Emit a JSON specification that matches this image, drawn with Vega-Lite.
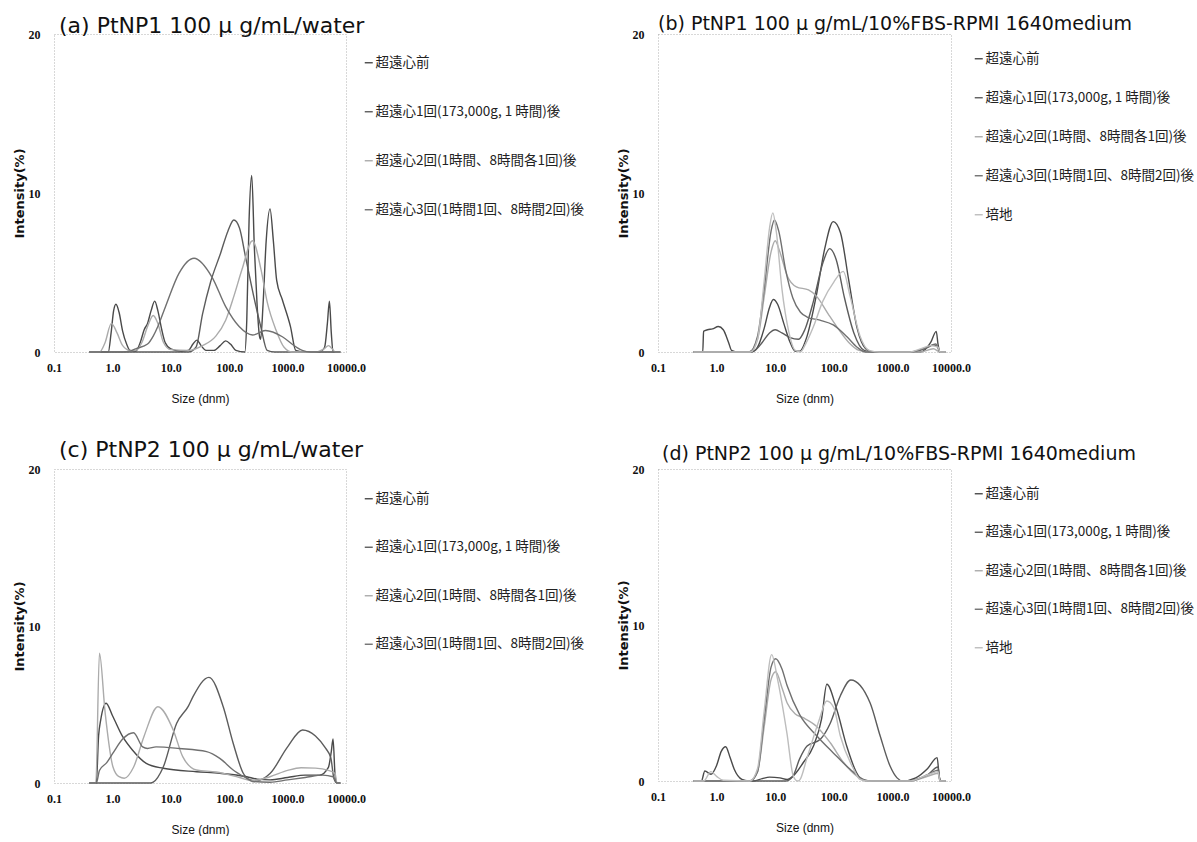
{
"$schema":"https://vega.github.io/schema/vega-lite/v6.json",
"background":"white",
"padding":{"left":12,"top":14,"right":0,"bottom":0},
"datasets":{
"names":[{"k":0,"s":"超遠心前"},{"k":1,"s":"超遠心1回(173,000g, 1 時間)後"},{"k":2,"s":"超遠心2回(1時間、8時間各1回)後"},{"k":3,"s":"超遠心3回(1時間1回、8時間2回)後"},{"k":4,"s":"培地"}],
"pts":[
{"p":"a","k":0,"x":0.4,"y":0},{"p":"a","k":0,"x":0.85,"y":0},{"p":"a","k":0,"x":0.95,"y":1.2},{"p":"a","k":0,"x":1.05,"y":2.6},{"p":"a","k":0,"x":1.15,"y":3.0},{"p":"a","k":0,"x":1.3,"y":2.5},{"p":"a","k":0,"x":1.5,"y":1.3},{"p":"a","k":0,"x":1.75,"y":0.5},{"p":"a","k":0,"x":2.0,"y":0.1},{"p":"a","k":0,"x":2.5,"y":0.05},{"p":"a","k":0,"x":3.0,"y":0.6},{"p":"a","k":0,"x":3.5,"y":1.4},{"p":"a","k":0,"x":4.0,"y":1.8},{"p":"a","k":0,"x":4.6,"y":2.6},{"p":"a","k":0,"x":5.3,"y":3.2},{"p":"a","k":0,"x":6.0,"y":2.6},{"p":"a","k":0,"x":7.0,"y":1.4},{"p":"a","k":0,"x":8.0,"y":0.6},{"p":"a","k":0,"x":10,"y":0.2},{"p":"a","k":0,"x":15,"y":0.05},{"p":"a","k":0,"x":20,"y":0.1},{"p":"a","k":0,"x":24,"y":0.5},{"p":"a","k":0,"x":28,"y":0.75},{"p":"a","k":0,"x":33,"y":0.4},{"p":"a","k":0,"x":40,"y":0.1},{"p":"a","k":0,"x":55,"y":0.1},{"p":"a","k":0,"x":70,"y":0.4},{"p":"a","k":0,"x":87,"y":0.7},{"p":"a","k":0,"x":105,"y":0.5},{"p":"a","k":0,"x":130,"y":0.1},{"p":"a","k":0,"x":185,"y":0},{"p":"a","k":0,"x":200,"y":2.0},{"p":"a","k":0,"x":219,"y":8.3},{"p":"a","k":0,"x":243,"y":11.1},{"p":"a","k":0,"x":270,"y":6.5},{"p":"a","k":0,"x":300,"y":3.0},{"p":"a","k":0,"x":330,"y":1.0},{"p":"a","k":0,"x":345,"y":0.8},{"p":"a","k":0,"x":380,"y":3.0},{"p":"a","k":0,"x":430,"y":7.0},{"p":"a","k":0,"x":500,"y":9.0},{"p":"a","k":0,"x":570,"y":7.0},{"p":"a","k":0,"x":650,"y":4.5},{"p":"a","k":0,"x":810,"y":3.3},{"p":"a","k":0,"x":1120,"y":1.6},{"p":"a","k":0,"x":1380,"y":0.1},{"p":"a","k":0,"x":2000,"y":0},{"p":"a","k":0,"x":3500,"y":0},{"p":"a","k":0,"x":4300,"y":0.3},{"p":"a","k":0,"x":4800,"y":1.8},{"p":"a","k":0,"x":5200,"y":3.2},{"p":"a","k":0,"x":5600,"y":1.2},{"p":"a","k":0,"x":6000,"y":0},{"p":"a","k":0,"x":8000,"y":0},
{"p":"a","k":1,"x":0.4,"y":0},{"p":"a","k":1,"x":20,"y":0},{"p":"a","k":1,"x":27,"y":0.3},{"p":"a","k":1,"x":35,"y":2.4},{"p":"a","k":1,"x":48,"y":4.4},{"p":"a","k":1,"x":71,"y":6.2},{"p":"a","k":1,"x":95,"y":7.6},{"p":"a","k":1,"x":120,"y":8.3},{"p":"a","k":1,"x":150,"y":7.8},{"p":"a","k":1,"x":190,"y":6.0},{"p":"a","k":1,"x":263,"y":3.5},{"p":"a","k":1,"x":347,"y":1.6},{"p":"a","k":1,"x":447,"y":0.1},{"p":"a","k":1,"x":600,"y":0},{"p":"a","k":1,"x":8000,"y":0},
{"p":"a","k":2,"x":0.4,"y":0},{"p":"a","k":2,"x":0.6,"y":0},{"p":"a","k":2,"x":0.75,"y":0.6},{"p":"a","k":2,"x":0.96,"y":1.8},{"p":"a","k":2,"x":1.2,"y":1.2},{"p":"a","k":2,"x":1.5,"y":0.4},{"p":"a","k":2,"x":2.0,"y":0.1},{"p":"a","k":2,"x":2.5,"y":0.1},{"p":"a","k":2,"x":3.2,"y":0.6},{"p":"a","k":2,"x":4.0,"y":1.6},{"p":"a","k":2,"x":5.0,"y":2.3},{"p":"a","k":2,"x":6.0,"y":1.8},{"p":"a","k":2,"x":7.5,"y":0.6},{"p":"a","k":2,"x":10,"y":0.15},{"p":"a","k":2,"x":20,"y":0.1},{"p":"a","k":2,"x":35,"y":0.4},{"p":"a","k":2,"x":59,"y":1.0},{"p":"a","k":2,"x":87,"y":2.0},{"p":"a","k":2,"x":120,"y":3.5},{"p":"a","k":2,"x":166,"y":5.2},{"p":"a","k":2,"x":250,"y":7.0},{"p":"a","k":2,"x":350,"y":5.2},{"p":"a","k":2,"x":450,"y":3.1},{"p":"a","k":2,"x":630,"y":1.4},{"p":"a","k":2,"x":870,"y":0.3},{"p":"a","k":2,"x":1200,"y":0},{"p":"a","k":2,"x":3000,"y":0},{"p":"a","k":2,"x":4200,"y":0.2},{"p":"a","k":2,"x":5000,"y":0.4},{"p":"a","k":2,"x":5800,"y":0.2},{"p":"a","k":2,"x":6500,"y":0},{"p":"a","k":2,"x":8000,"y":0},
{"p":"a","k":3,"x":0.4,"y":0},{"p":"a","k":3,"x":1.5,"y":0},{"p":"a","k":3,"x":2.0,"y":0.05},{"p":"a","k":3,"x":2.5,"y":0.2},{"p":"a","k":3,"x":4.0,"y":0.5},{"p":"a","k":3,"x":5.0,"y":1.0},{"p":"a","k":3,"x":6.0,"y":1.6},{"p":"a","k":3,"x":8.1,"y":2.85},{"p":"a","k":3,"x":13.8,"y":4.95},{"p":"a","k":3,"x":25,"y":5.9},{"p":"a","k":3,"x":51,"y":4.7},{"p":"a","k":3,"x":87,"y":2.85},{"p":"a","k":3,"x":148,"y":1.6},{"p":"a","k":3,"x":251,"y":1.07},{"p":"a","k":3,"x":417,"y":1.35},{"p":"a","k":3,"x":813,"y":0.96},{"p":"a","k":3,"x":1380,"y":0.33},{"p":"a","k":3,"x":1780,"y":0.1},{"p":"a","k":3,"x":2500,"y":0},{"p":"a","k":3,"x":8000,"y":0},

{"p":"b","k":0,"x":0.4,"y":0},{"p":"b","k":0,"x":0.58,"y":0},{"p":"b","k":0,"x":0.6,"y":1.3},{"p":"b","k":0,"x":0.7,"y":1.4},{"p":"b","k":0,"x":0.85,"y":1.45},{"p":"b","k":0,"x":1.07,"y":1.6},{"p":"b","k":0,"x":1.3,"y":1.4},{"p":"b","k":0,"x":1.6,"y":0.6},{"p":"b","k":0,"x":1.8,"y":0.1},{"p":"b","k":0,"x":2.2,"y":0},{"p":"b","k":0,"x":4.0,"y":0},{"p":"b","k":0,"x":5.0,"y":0.3},{"p":"b","k":0,"x":6.5,"y":1.5},{"p":"b","k":0,"x":8.0,"y":2.8},{"p":"b","k":0,"x":9.3,"y":3.3},{"p":"b","k":0,"x":11,"y":3.0},{"p":"b","k":0,"x":14,"y":1.8},{"p":"b","k":0,"x":18,"y":0.6},{"p":"b","k":0,"x":22,"y":0.05},{"p":"b","k":0,"x":26,"y":0.05},{"p":"b","k":0,"x":35,"y":1.0},{"p":"b","k":0,"x":50,"y":3.5},{"p":"b","k":0,"x":70,"y":6.5},{"p":"b","k":0,"x":98,"y":8.2},{"p":"b","k":0,"x":130,"y":7.5},{"p":"b","k":0,"x":180,"y":4.5},{"p":"b","k":0,"x":250,"y":1.5},{"p":"b","k":0,"x":350,"y":0.2},{"p":"b","k":0,"x":450,"y":0},{"p":"b","k":0,"x":3000,"y":0},{"p":"b","k":0,"x":4500,"y":0.6},{"p":"b","k":0,"x":5600,"y":1.3},{"p":"b","k":0,"x":6000,"y":0.5},{"p":"b","k":0,"x":6500,"y":0},{"p":"b","k":0,"x":8000,"y":0},
{"p":"b","k":1,"x":0.4,"y":0},{"p":"b","k":1,"x":3.5,"y":0},{"p":"b","k":1,"x":4.5,"y":0.1},{"p":"b","k":1,"x":6,"y":0.6},{"p":"b","k":1,"x":8,"y":1.2},{"p":"b","k":1,"x":10,"y":1.4},{"p":"b","k":1,"x":13,"y":1.2},{"p":"b","k":1,"x":18,"y":0.9},{"p":"b","k":1,"x":25,"y":0.8},{"p":"b","k":1,"x":32,"y":1.4},{"p":"b","k":1,"x":45,"y":3.2},{"p":"b","k":1,"x":65,"y":5.6},{"p":"b","k":1,"x":85,"y":6.5},{"p":"b","k":1,"x":110,"y":5.8},{"p":"b","k":1,"x":150,"y":3.5},{"p":"b","k":1,"x":220,"y":1.2},{"p":"b","k":1,"x":330,"y":0.1},{"p":"b","k":1,"x":450,"y":0},{"p":"b","k":1,"x":2000,"y":0},{"p":"b","k":1,"x":3500,"y":0.2},{"p":"b","k":1,"x":5000,"y":0.45},{"p":"b","k":1,"x":6000,"y":0.3},{"p":"b","k":1,"x":6500,"y":0},{"p":"b","k":1,"x":8000,"y":0},
{"p":"b","k":2,"x":0.4,"y":0},{"p":"b","k":2,"x":3.6,"y":0},{"p":"b","k":2,"x":5,"y":0.8},{"p":"b","k":2,"x":6.5,"y":3.5},{"p":"b","k":2,"x":8.5,"y":6.3},{"p":"b","k":2,"x":10,"y":7.0},{"p":"b","k":2,"x":12,"y":6.3},{"p":"b","k":2,"x":16,"y":4.8},{"p":"b","k":2,"x":23,"y":4.1},{"p":"b","k":2,"x":37,"y":3.9},{"p":"b","k":2,"x":51,"y":3.5},{"p":"b","k":2,"x":80,"y":2.4},{"p":"b","k":2,"x":112,"y":1.6},{"p":"b","k":2,"x":180,"y":0.6},{"p":"b","k":2,"x":270,"y":0.1},{"p":"b","k":2,"x":400,"y":0},{"p":"b","k":2,"x":3000,"y":0},{"p":"b","k":2,"x":5000,"y":0.2},{"p":"b","k":2,"x":6500,"y":0},{"p":"b","k":2,"x":8000,"y":0},
{"p":"b","k":3,"x":0.4,"y":0},{"p":"b","k":3,"x":3.6,"y":0},{"p":"b","k":3,"x":5,"y":1.0},{"p":"b","k":3,"x":6.5,"y":4.0},{"p":"b","k":3,"x":8.5,"y":7.6},{"p":"b","k":3,"x":9.7,"y":8.3},{"p":"b","k":3,"x":11.5,"y":7.6},{"p":"b","k":3,"x":15,"y":5.2},{"p":"b","k":3,"x":20,"y":3.4},{"p":"b","k":3,"x":27,"y":2.5},{"p":"b","k":3,"x":35,"y":2.2},{"p":"b","k":3,"x":58,"y":2.0},{"p":"b","k":3,"x":98,"y":1.7},{"p":"b","k":3,"x":166,"y":0.97},{"p":"b","k":3,"x":250,"y":0.3},{"p":"b","k":3,"x":350,"y":0},{"p":"b","k":3,"x":2000,"y":0},{"p":"b","k":3,"x":4000,"y":0.3},{"p":"b","k":3,"x":5500,"y":0.5},{"p":"b","k":3,"x":6500,"y":0},{"p":"b","k":3,"x":8000,"y":0},
{"p":"b","k":4,"x":0.4,"y":0},{"p":"b","k":4,"x":3.8,"y":0},{"p":"b","k":4,"x":5,"y":0.8},{"p":"b","k":4,"x":6.5,"y":4.5},{"p":"b","k":4,"x":8,"y":7.8},{"p":"b","k":4,"x":9.1,"y":8.75},{"p":"b","k":4,"x":10.5,"y":7.5},{"p":"b","k":4,"x":13,"y":4.0},{"p":"b","k":4,"x":17,"y":1.3},{"p":"b","k":4,"x":22,"y":0.1},{"p":"b","k":4,"x":27,"y":0},{"p":"b","k":4,"x":33,"y":0.5},{"p":"b","k":4,"x":45,"y":1.6},{"p":"b","k":4,"x":65,"y":3.2},{"p":"b","k":4,"x":100,"y":4.4},{"p":"b","k":4,"x":145,"y":5.07},{"p":"b","k":4,"x":190,"y":3.5},{"p":"b","k":4,"x":280,"y":1.0},{"p":"b","k":4,"x":400,"y":0.1},{"p":"b","k":4,"x":600,"y":0},{"p":"b","k":4,"x":2000,"y":0},{"p":"b","k":4,"x":3000,"y":0.2},{"p":"b","k":4,"x":4500,"y":0.4},{"p":"b","k":4,"x":6000,"y":0.3},{"p":"b","k":4,"x":6500,"y":0},{"p":"b","k":4,"x":8000,"y":0},

{"p":"c","k":0,"x":0.4,"y":0},{"p":"c","k":0,"x":0.53,"y":0},{"p":"c","k":0,"x":0.58,"y":3.0},{"p":"c","k":0,"x":0.63,"y":4.0},{"p":"c","k":0,"x":0.78,"y":5.08},{"p":"c","k":0,"x":1.0,"y":4.3},{"p":"c","k":0,"x":1.5,"y":2.95},{"p":"c","k":0,"x":2.2,"y":2.1},{"p":"c","k":0,"x":3.8,"y":1.25},{"p":"c","k":0,"x":7.4,"y":0.94},{"p":"c","k":0,"x":27.5,"y":0.72},{"p":"c","k":0,"x":69,"y":0.62},{"p":"c","k":0,"x":200,"y":0.4},{"p":"c","k":0,"x":300,"y":0.25},{"p":"c","k":0,"x":500,"y":0.2},{"p":"c","k":0,"x":1000,"y":0.35},{"p":"c","k":0,"x":2000,"y":0.5},{"p":"c","k":0,"x":3500,"y":0.5},{"p":"c","k":0,"x":5000,"y":1.0},{"p":"c","k":0,"x":5600,"y":2.0},{"p":"c","k":0,"x":6000,"y":2.8},{"p":"c","k":0,"x":6500,"y":0.5},{"p":"c","k":0,"x":7000,"y":0},{"p":"c","k":0,"x":8000,"y":0},
{"p":"c","k":1,"x":0.4,"y":0},{"p":"c","k":1,"x":4.5,"y":0},{"p":"c","k":1,"x":5.0,"y":0.05},{"p":"c","k":1,"x":7.4,"y":1.0},{"p":"c","k":1,"x":12.6,"y":3.8},{"p":"c","k":1,"x":20,"y":4.9},{"p":"c","k":1,"x":24,"y":5.5},{"p":"c","k":1,"x":45,"y":6.73},{"p":"c","k":1,"x":79,"y":4.86},{"p":"c","k":1,"x":117,"y":2.53},{"p":"c","k":1,"x":174,"y":0.62},{"p":"c","k":1,"x":229,"y":0.2},{"p":"c","k":1,"x":300,"y":0.15},{"p":"c","k":1,"x":500,"y":0.6},{"p":"c","k":1,"x":1000,"y":2.3},{"p":"c","k":1,"x":1800,"y":3.38},{"p":"c","k":1,"x":3000,"y":3.0},{"p":"c","k":1,"x":4500,"y":2.2},{"p":"c","k":1,"x":5500,"y":1.6},{"p":"c","k":1,"x":6200,"y":0.3},{"p":"c","k":1,"x":7000,"y":0},{"p":"c","k":1,"x":8000,"y":0},
{"p":"c","k":2,"x":0.4,"y":0},{"p":"c","k":2,"x":0.52,"y":0},{"p":"c","k":2,"x":0.6,"y":8.26},{"p":"c","k":2,"x":0.75,"y":4.5},{"p":"c","k":2,"x":1.02,"y":1.04},{"p":"c","k":2,"x":1.3,"y":0.4},{"p":"c","k":2,"x":1.6,"y":0.3},{"p":"c","k":2,"x":2.3,"y":1.0},{"p":"c","k":2,"x":3.5,"y":3.0},{"p":"c","k":2,"x":6.0,"y":4.86},{"p":"c","k":2,"x":11,"y":3.38},{"p":"c","k":2,"x":16,"y":1.68},{"p":"c","k":2,"x":27.5,"y":0.83},{"p":"c","k":2,"x":60,"y":0.7},{"p":"c","k":2,"x":150,"y":0.35},{"p":"c","k":2,"x":250,"y":0.15},{"p":"c","k":2,"x":500,"y":0.4},{"p":"c","k":2,"x":1000,"y":0.8},{"p":"c","k":2,"x":1700,"y":0.97},{"p":"c","k":2,"x":3000,"y":0.95},{"p":"c","k":2,"x":5000,"y":0.8},{"p":"c","k":2,"x":6500,"y":0.6},{"p":"c","k":2,"x":7000,"y":0},{"p":"c","k":2,"x":8000,"y":0},
{"p":"c","k":3,"x":0.4,"y":0},{"p":"c","k":3,"x":0.53,"y":0},{"p":"c","k":3,"x":0.6,"y":0.8},{"p":"c","k":3,"x":0.8,"y":1.3},{"p":"c","k":3,"x":1.02,"y":1.9},{"p":"c","k":3,"x":1.5,"y":2.8},{"p":"c","k":3,"x":2.3,"y":3.2},{"p":"c","k":3,"x":3.3,"y":2.3},{"p":"c","k":3,"x":4,"y":2.2},{"p":"c","k":3,"x":5.6,"y":2.3},{"p":"c","k":3,"x":14,"y":2.2},{"p":"c","k":3,"x":41,"y":2.0},{"p":"c","k":3,"x":69,"y":1.57},{"p":"c","k":3,"x":117,"y":0.83},{"p":"c","k":3,"x":200,"y":0.3},{"p":"c","k":3,"x":250,"y":0.1},{"p":"c","k":3,"x":500,"y":0.05},{"p":"c","k":3,"x":1000,"y":0.2},{"p":"c","k":3,"x":2000,"y":0.35},{"p":"c","k":3,"x":4000,"y":0.5},{"p":"c","k":3,"x":6000,"y":0.4},{"p":"c","k":3,"x":7000,"y":0},{"p":"c","k":3,"x":8000,"y":0},

{"p":"d","k":0,"x":0.4,"y":0},{"p":"d","k":0,"x":0.55,"y":0},{"p":"d","k":0,"x":0.63,"y":0.64},{"p":"d","k":0,"x":0.8,"y":0.43},{"p":"d","k":0,"x":1.0,"y":1.0},{"p":"d","k":0,"x":1.2,"y":1.9},{"p":"d","k":0,"x":1.43,"y":2.2},{"p":"d","k":0,"x":1.7,"y":1.5},{"p":"d","k":0,"x":2.0,"y":0.75},{"p":"d","k":0,"x":2.7,"y":0.1},{"p":"d","k":0,"x":3.5,"y":0},{"p":"d","k":0,"x":4.3,"y":0},{"p":"d","k":0,"x":6,"y":0.15},{"p":"d","k":0,"x":8,"y":0.25},{"p":"d","k":0,"x":12,"y":0.2},{"p":"d","k":0,"x":16,"y":0.1},{"p":"d","k":0,"x":20,"y":0.3},{"p":"d","k":0,"x":30,"y":1.17},{"p":"d","k":0,"x":45,"y":2.24},{"p":"d","k":0,"x":62,"y":4.0},{"p":"d","k":0,"x":76,"y":6.2},{"p":"d","k":0,"x":112,"y":4.6},{"p":"d","k":0,"x":166,"y":2.24},{"p":"d","k":0,"x":245,"y":0.53},{"p":"d","k":0,"x":300,"y":0.1},{"p":"d","k":0,"x":400,"y":0},{"p":"d","k":0,"x":1500,"y":0},{"p":"d","k":0,"x":2500,"y":0.2},{"p":"d","k":0,"x":4000,"y":0.8},{"p":"d","k":0,"x":5800,"y":1.5},{"p":"d","k":0,"x":6300,"y":0.3},{"p":"d","k":0,"x":6800,"y":0},{"p":"d","k":0,"x":8000,"y":0},
{"p":"d","k":1,"x":0.4,"y":0},{"p":"d","k":1,"x":15,"y":0},{"p":"d","k":1,"x":20,"y":0.3},{"p":"d","k":1,"x":26,"y":1.4},{"p":"d","k":1,"x":35,"y":2.24},{"p":"d","k":1,"x":59,"y":2.67},{"p":"d","k":1,"x":87,"y":3.7},{"p":"d","k":1,"x":129,"y":5.45},{"p":"d","k":1,"x":195,"y":6.47},{"p":"d","k":1,"x":417,"y":5.0},{"p":"d","k":1,"x":617,"y":2.9},{"p":"d","k":1,"x":912,"y":0.96},{"p":"d","k":1,"x":1200,"y":0.2},{"p":"d","k":1,"x":1500,"y":0},{"p":"d","k":1,"x":2500,"y":0.1},{"p":"d","k":1,"x":4000,"y":0.4},{"p":"d","k":1,"x":6000,"y":0.9},{"p":"d","k":1,"x":6500,"y":0},{"p":"d","k":1,"x":8000,"y":0},
{"p":"d","k":2,"x":0.4,"y":0},{"p":"d","k":2,"x":3.7,"y":0},{"p":"d","k":2,"x":5,"y":0.6},{"p":"d","k":2,"x":6.5,"y":3.5},{"p":"d","k":2,"x":8.5,"y":6.5},{"p":"d","k":2,"x":10.2,"y":7.0},{"p":"d","k":2,"x":13,"y":6.0},{"p":"d","k":2,"x":16,"y":5.0},{"p":"d","k":2,"x":22,"y":4.3},{"p":"d","k":2,"x":30,"y":4.06},{"p":"d","k":2,"x":51,"y":3.5},{"p":"d","k":2,"x":87,"y":2.45},{"p":"d","k":2,"x":148,"y":1.17},{"p":"d","k":2,"x":250,"y":0.3},{"p":"d","k":2,"x":350,"y":0},{"p":"d","k":2,"x":2000,"y":0},{"p":"d","k":2,"x":4000,"y":0.3},{"p":"d","k":2,"x":6000,"y":0.5},{"p":"d","k":2,"x":6500,"y":0},{"p":"d","k":2,"x":8000,"y":0},
{"p":"d","k":3,"x":0.4,"y":0},{"p":"d","k":3,"x":3.7,"y":0},{"p":"d","k":3,"x":5,"y":0.6},{"p":"d","k":3,"x":6.5,"y":4.0},{"p":"d","k":3,"x":8.5,"y":7.3},{"p":"d","k":3,"x":10.2,"y":7.84},{"p":"d","k":3,"x":13,"y":7.2},{"p":"d","k":3,"x":16,"y":6.1},{"p":"d","k":3,"x":26,"y":4.27},{"p":"d","k":3,"x":51,"y":2.9},{"p":"d","k":3,"x":98,"y":1.8},{"p":"d","k":3,"x":190,"y":0.75},{"p":"d","k":3,"x":320,"y":0.1},{"p":"d","k":3,"x":450,"y":0},{"p":"d","k":3,"x":2000,"y":0},{"p":"d","k":3,"x":4000,"y":0.4},{"p":"d","k":3,"x":6000,"y":0.7},{"p":"d","k":3,"x":6500,"y":0},{"p":"d","k":3,"x":8000,"y":0},
{"p":"d","k":4,"x":0.4,"y":0},{"p":"d","k":4,"x":0.6,"y":0},{"p":"d","k":4,"x":0.8,"y":0.6},{"p":"d","k":4,"x":1.0,"y":0.3},{"p":"d","k":4,"x":1.3,"y":0.05},{"p":"d","k":4,"x":3.7,"y":0},{"p":"d","k":4,"x":5,"y":0.8},{"p":"d","k":4,"x":6.5,"y":4.5},{"p":"d","k":4,"x":8.7,"y":8.1},{"p":"d","k":4,"x":11,"y":6.5},{"p":"d","k":4,"x":15.8,"y":3.1},{"p":"d","k":4,"x":20.4,"y":0.3},{"p":"d","k":4,"x":24,"y":0},{"p":"d","k":4,"x":26,"y":0.05},{"p":"d","k":4,"x":35,"y":1.5},{"p":"d","k":4,"x":55,"y":3.8},{"p":"d","k":4,"x":76,"y":5.13},{"p":"d","k":4,"x":100,"y":4.7},{"p":"d","k":4,"x":129,"y":2.9},{"p":"d","k":4,"x":219,"y":0.75},{"p":"d","k":4,"x":280,"y":0.1},{"p":"d","k":4,"x":400,"y":0},{"p":"d","k":4,"x":2000,"y":0},{"p":"d","k":4,"x":4000,"y":0.4},{"p":"d","k":4,"x":6000,"y":0.6},{"p":"d","k":4,"x":6500,"y":0},{"p":"d","k":4,"x":8000,"y":0}
]},
"config":{
"view":{"stroke":"#b0b0b0","strokeDash":[1,2],"strokeWidth":1},
"axis":{"domain":false,"ticks":false,"grid":false,"labelFlush":false,"labelFont":"Liberation Serif","labelFontWeight":"bold","labelFontSize":12,"labelColor":"#111","titleColor":"#111"},
"axisX":{"labelPadding":10,"titleFont":"Liberation Sans","titleFontSize":12,"titleFontWeight":"normal","titlePadding":20},
"axisY":{"labelPadding":14,"titleFont":"DejaVu Sans","titleFontWeight":"bold","titleFontSize":13,"titlePadding":2},
"legend":{"symbolType":"stroke","symbolSize":64,"symbolStrokeWidth":1.5,"labelFont":"Noto Sans CJK JP","labelFontSize":13.5,"labelLimit":400,"labelColor":"#222","labelOffset":0},
"title":{"font":"DejaVu Sans","fontWeight":"normal","anchor":"start","frame":"group","color":"#111"},
"line":{"interpolate":"monotone","strokeWidth":1.4}
},
"columns":2,
"align":"each",
"spacing":{"row":33,"column":30},
"resolve":{"scale":{"color":"independent","x":"independent","y":"independent"},"legend":{"color":"independent"}},
"concat":[
{"width":292,"height":318,"title":{"text":"(a) PtNP1 100 μ g/mL/water","fontSize":22,"offset":-10,"dx":5},
"data":{"name":"pts"},
"transform":[{"filter":"datum.p == 'a'"},{"lookup":"k","from":{"data":{"name":"names"},"key":"k","fields":["s"]}}],
"mark":{"type":"line"},
"encoding":{
"x":{"field":"x","type":"quantitative","scale":{"type":"log","domain":[0.1,10000]},"axis":{"title":"Size (dnm)","values":[0.1,1,10,100,1000,10000],"format":".1f"}},
"y":{"field":"y","type":"quantitative","scale":{"domain":[0,20]},"axis":{"title":"Intensity(%)","values":[0,10,20]}},
"color":{"field":"s","type":"nominal","scale":{"domain":["超遠心前","超遠心1回(173,000g, 1 時間)後","超遠心2回(1時間、8時間各1回)後","超遠心3回(1時間1回、8時間2回)後"],"range":["#4a4a4a","#5c5c5c","#ababab","#707070"]},"legend":{"title":null,"orient":"none","legendX":308,"legendY":22,"rowPadding":34}},
"detail":{"field":"k"}}},
{"width":293,"height":318,"title":{"text":"(b) PtNP1 100 μ g/mL/10%FBS-RPMI 1640medium","fontSize":19,"offset":-6},
"data":{"name":"pts"},
"transform":[{"filter":"datum.p == 'b'"},{"lookup":"k","from":{"data":{"name":"names"},"key":"k","fields":["s"]}}],
"mark":{"type":"line"},
"encoding":{
"x":{"field":"x","type":"quantitative","scale":{"type":"log","domain":[0.1,10000]},"axis":{"title":"Size (dnm)","values":[0.1,1,10,100,1000,10000],"format":".1f"}},
"y":{"field":"y","type":"quantitative","scale":{"domain":[0,20]},"axis":{"title":"Intensity(%)","values":[0,10,20]}},
"color":{"field":"s","type":"nominal","scale":{"domain":["超遠心前","超遠心1回(173,000g, 1 時間)後","超遠心2回(1時間、8時間各1回)後","超遠心3回(1時間1回、8時間2回)後","培地"],"range":["#4a4a4a","#5c5c5c","#ababab","#707070","#bdbdbd"]},"legend":{"title":null,"orient":"none","legendX":314,"legendY":18,"rowPadding":24}},
"detail":{"field":"k"}}},
{"width":292,"height":314,"title":{"text":"(c) PtNP2 100 μ g/mL/water","fontSize":22,"offset":1,"dx":5},
"data":{"name":"pts"},
"transform":[{"filter":"datum.p == 'c'"},{"lookup":"k","from":{"data":{"name":"names"},"key":"k","fields":["s"]}}],
"mark":{"type":"line"},
"encoding":{
"x":{"field":"x","type":"quantitative","scale":{"type":"log","domain":[0.1,10000]},"axis":{"title":"Size (dnm)","values":[0.1,1,10,100,1000,10000],"format":".1f"}},
"y":{"field":"y","type":"quantitative","scale":{"domain":[0,20]},"axis":{"title":"Intensity(%)","values":[0,10,20]}},
"color":{"field":"s","type":"nominal","scale":{"domain":["超遠心前","超遠心1回(173,000g, 1 時間)後","超遠心2回(1時間、8時間各1回)後","超遠心3回(1時間1回、8時間2回)後"],"range":["#4a4a4a","#5c5c5c","#ababab","#707070"]},"legend":{"title":null,"orient":"none","legendX":308,"legendY":23,"rowPadding":33.5}},
"detail":{"field":"k"}}},
{"width":293,"height":312,"title":{"text":"(d) PtNP2 100 μ g/mL/10%FBS-RPMI 1640medium","fontSize":19,"offset":-1,"dx":4},
"data":{"name":"pts"},
"transform":[{"filter":"datum.p == 'd'"},{"lookup":"k","from":{"data":{"name":"names"},"key":"k","fields":["s"]}}],
"mark":{"type":"line"},
"encoding":{
"x":{"field":"x","type":"quantitative","scale":{"type":"log","domain":[0.1,10000]},"axis":{"title":"Size (dnm)","values":[0.1,1,10,100,1000,10000],"format":".1f"}},
"y":{"field":"y","type":"quantitative","scale":{"domain":[0,20]},"axis":{"title":"Intensity(%)","values":[0,10,20]}},
"color":{"field":"s","type":"nominal","scale":{"domain":["超遠心前","超遠心1回(173,000g, 1 時間)後","超遠心2回(1時間、8時間各1回)後","超遠心3回(1時間1回、8時間2回)後","培地"],"range":["#4a4a4a","#5c5c5c","#ababab","#707070","#bdbdbd"]},"legend":{"title":null,"orient":"none","legendX":314,"legendY":18,"rowPadding":23.5}},
"detail":{"field":"k"}}}
]
}
